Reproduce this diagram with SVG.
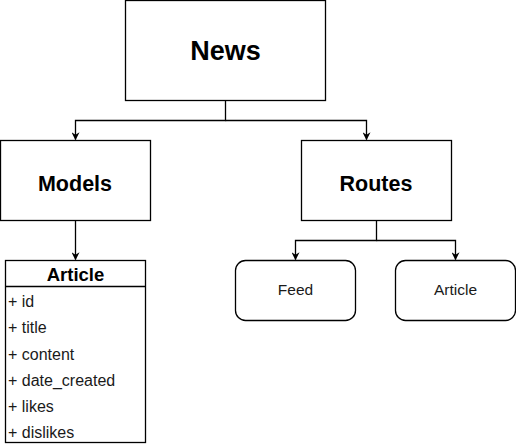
<svg xmlns="http://www.w3.org/2000/svg" width="516" height="446" viewBox="0 0 516 446">
<defs>
<marker id="arr" viewBox="0 0 10 10" refX="9" refY="5" markerWidth="8" markerHeight="8" markerUnits="userSpaceOnUse" orient="auto">
<path d="M0,0 L10,5 L0,10 L3,5 Z" fill="#000"/>
</marker>
<style>
.box{fill:#fff;stroke:#000;stroke-width:1.3}
.edge{fill:none;stroke:#000;stroke-width:1.3}
.b{font-family:"Liberation Sans",Arial,sans-serif;font-weight:bold;fill:#000;text-anchor:middle}
.r{font-family:"Liberation Sans",Arial,sans-serif;fill:#1a1a1a}
</style>
</defs>
<rect width="516" height="446" fill="#fff"/>
<g id="connectors">
<path class="edge" d="M225.5,100.5 V120.5 H75.5 V139.5" marker-end="url(#arr)"/>
<path class="edge" d="M225.5,120.5 H366.5 V139.5" marker-end="url(#arr)"/>
<path class="edge" d="M75.5,220.5 V259.5" marker-end="url(#arr)"/>
<path class="edge" d="M376.5,220.5 V240.5 H295.5 V259.5" marker-end="url(#arr)"/>
<path class="edge" d="M376.5,240.5 H455.5 V259.5" marker-end="url(#arr)"/>
</g>
<g id="news">
<rect class="box" x="125.5" y="0.5" width="200" height="100"/>
<text class="b" x="225.5" y="60" font-size="27">News</text>
</g>
<g id="models">
<rect class="box" x="0.5" y="140.5" width="150" height="80"/>
<text class="b" x="75" y="190.5" font-size="21.5">Models</text>
</g>
<g id="routes">
<rect class="box" x="301.5" y="140.5" width="150" height="80"/>
<text class="b" x="376" y="190.5" font-size="21.5">Routes</text>
</g>
<g id="article-model">
<rect class="box" x="5.5" y="260.5" width="140" height="182"/>
<line class="edge" x1="5.5" y1="286.5" x2="145.5" y2="286.5"/>
<text class="b" x="75.5" y="281" font-size="18.5">Article</text>
<text class="r" x="8" y="307" font-size="16">+ id</text>
<text class="r" x="8" y="333" font-size="16">+ title</text>
<text class="r" x="8" y="359.5" font-size="16">+ content</text>
<text class="r" x="8" y="385.5" font-size="16">+ date_created</text>
<text class="r" x="8" y="411.5" font-size="16">+ likes</text>
<text class="r" x="8" y="437.5" font-size="16">+ dislikes</text>
</g>
<g id="feed">
<rect class="box" x="235.5" y="260.5" width="120" height="60" rx="10"/>
<text class="r" x="295.5" y="295" font-size="15.5" text-anchor="middle">Feed</text>
</g>
<g id="article-route">
<rect class="box" x="395.5" y="260.5" width="120" height="60" rx="10"/>
<text class="r" x="455.5" y="295" font-size="15.5" text-anchor="middle">Article</text>
</g>
</svg>
